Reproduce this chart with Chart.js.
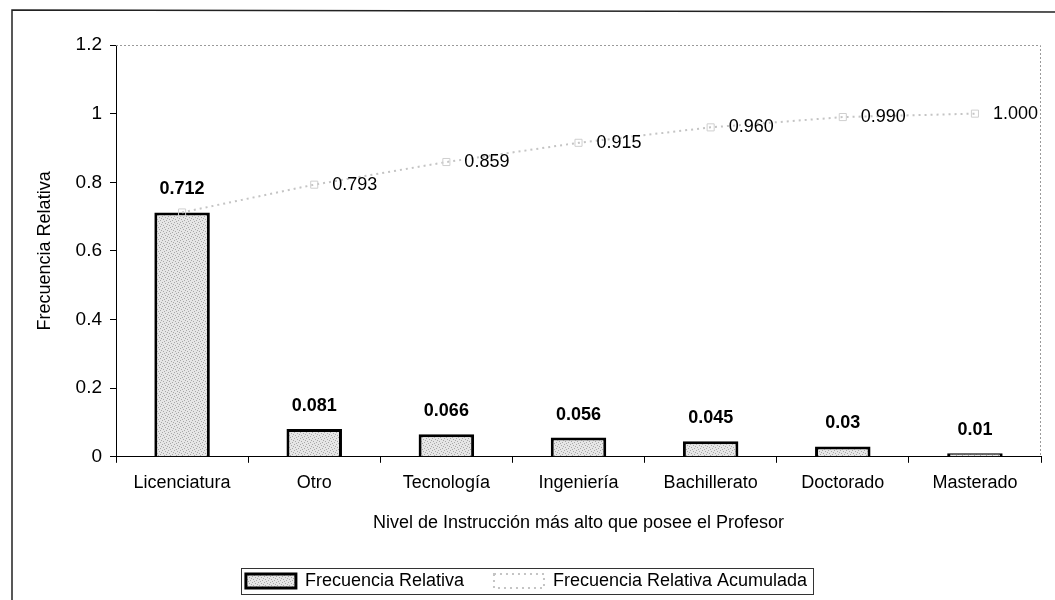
<!DOCTYPE html>
<html>
<head>
<meta charset="utf-8">
<script src="https://cdn.jsdelivr.net/npm/chart.js@4.4.1/dist/chart.umd.min.js"></script>
<style>
  html, body { margin: 0; padding: 0; background: #fff; }
  #wrap { width: 1055px; height: 600px; position: relative; }
</style>
</head>
<body>
<div id="wrap"><canvas id="chart" width="1055" height="600"></canvas></div>
<script>
// Data
const categories = ['Licenciatura', 'Otro', 'Tecnología', 'Ingeniería', 'Bachillerato', 'Doctorado', 'Masterado'];
const freqRelativa = [0.712, 0.081, 0.066, 0.056, 0.045, 0.03, 0.01];
const freqAcumulada = [0.712, 0.793, 0.859, 0.915, 0.960, 0.990, 1.000];
const seriesNames = ['Frecuencia Relativa', 'Frecuencia Relativa Acumulada'];
const yMax = 1.2;
const yStep = 0.2;

const FONT = '"Liberation Sans", Arial, sans-serif';

// light speckled fill like the printed bars
function speckle() {
    const c = document.createElement('canvas');
    c.width = 6; c.height = 6;
    const g = c.getContext('2d');
    g.fillStyle = '#e6e6e6';
    g.fillRect(0, 0, 6, 6);
    g.fillStyle = '#a8a8a8';
    [[0, 0], [3, 1], [1, 3], [4, 4], [5, 2], [2, 5]].forEach(p => g.fillRect(p[0], p[1], 1, 1));
    return g.createPattern(c, 'repeat');
}

// value labels above bars and to the right of line points
const valueLabels = {
    id: 'valueLabels',
    afterDatasetsDraw(chart) {
        const ctx = chart.ctx;
        ctx.save();
        ctx.fillStyle = '#000';
        const barMeta = chart.getDatasetMeta(0);
        ctx.font = 'bold 18px ' + FONT;
        ctx.textAlign = 'center';
        ctx.textBaseline = 'middle';
        barMeta.data.forEach((el, i) => {
            ctx.fillText(String(freqRelativa[i]), el.x, el.y - 23);
        });
        const lineMeta = chart.getDatasetMeta(1);
        ctx.font = '18px ' + FONT;
        ctx.textAlign = 'left';
        lineMeta.data.forEach((el, i) => {
            if (i === 0) return; // first point shares the bar label
            ctx.fillText(freqAcumulada[i].toFixed(3), el.x + 18, el.y);
        });
        ctx.restore();
    }
};

// dotted plot-area edges, outer frame and legend box
const frames = {
    id: 'frames',
    beforeDatasetsDraw(chart) {
        const { ctx, chartArea: a } = chart;
        ctx.save();
        ctx.strokeStyle = '#9a9a9a';
        ctx.lineWidth = 1;
        ctx.setLineDash([2, 2]);
        ctx.beginPath();
        ctx.moveTo(a.left, a.top + 0.5);
        ctx.lineTo(a.right - 0.5, a.top + 0.5);
        ctx.lineTo(a.right - 0.5, a.bottom);
        ctx.stroke();
        ctx.restore();
    },
    afterDraw(chart) {
        const ctx = chart.ctx;
        ctx.save();
        ctx.strokeStyle = '#222';
        ctx.lineWidth = 1.5;
        ctx.beginPath();
        ctx.moveTo(12, 600);
        ctx.lineTo(12, 10);
        ctx.lineTo(1055, 12);
        ctx.stroke();
        const boxes = chart.legend.legendHitBoxes;
        if (boxes.length) {
            const l = boxes[0].left - 5;
            const r = boxes[boxes.length - 1].left + boxes[boxes.length - 1].width + 6;
            const t = boxes[0].top - 4;
            const b = boxes[0].top + boxes[0].height + 4;
            ctx.lineWidth = 1;
            ctx.strokeStyle = '#333';
            ctx.strokeRect(Math.round(l) + 0.5, Math.round(t) + 0.5, Math.round(r - l), Math.round(b - t));
        }
        ctx.restore();
    }
};

const ctx = document.getElementById('chart').getContext('2d');
const chart = new Chart(ctx, {
    data: {
        labels: categories,
        datasets: [
            {
                type: 'bar',
                label: seriesNames[0],
                data: freqRelativa,
                backgroundColor: speckle(),
                borderColor: '#000',
                borderWidth: 3,
                barPercentage: 1,
                categoryPercentage: 0.42,
                order: 2
            },
            {
                type: 'line',
                label: seriesNames[1],
                data: freqAcumulada,
                borderColor: '#c4c4c4',
                backgroundColor: 'rgba(0,0,0,0)',
                borderWidth: 2,
                borderDash: [2, 4],
                pointStyle: 'rect',
                pointRadius: 5,
                pointBorderColor: '#cfcfcf',
                pointBorderWidth: 1,
                pointBackgroundColor: 'rgba(0,0,0,0)',
                tension: 0,
                order: 1
            }
        ]
    },
    options: {
        responsive: false,
        animation: false,
        layout: { padding: { left: 12, right: 14, top: 45, bottom: 0 } },
        plugins: {
            tooltip: { enabled: false },
            legend: {
                position: 'bottom',
                labels: {
                    color: '#000',
                    font: { family: FONT, size: 18 },
                    boxWidth: 50,
                    boxHeight: 14,
                    padding: 30,
                    sort: (a, b) => a.datasetIndex - b.datasetIndex
                }
            }
        },
        scales: {
            x: {
                offset: true,
                grid: { offset: true, drawOnChartArea: false, color: '#000', tickLength: 6, tickColor: '#000' },
                border: { color: '#000', width: 1 },
                ticks: { color: '#000', font: { family: FONT, size: 18 }, padding: 9, maxRotation: 0 },
                title: {
                    display: true,
                    text: 'Nivel de Instrucción más alto que posee el Profesor',
                    color: '#000',
                    font: { family: FONT, size: 18 },
                    padding: { top: 10, bottom: 8 }
                }
            },
            y: {
                min: 0,
                max: yMax,
                grid: { drawOnChartArea: false, tickLength: 6, tickColor: '#000' },
                border: { color: '#000', width: 1 },
                ticks: {
                    stepSize: yStep,
                    color: '#000',
                    font: { family: FONT, size: 19 },
                    padding: 8,
                    callback: v => String(+v.toFixed(1))
                },
                title: {
                    display: true,
                    text: 'Frecuencia Relativa',
                    color: '#000',
                    font: { family: FONT, size: 18 },
                    padding: { top: 22, bottom: 12 }
                }
            }
        }
    },
    plugins: [valueLabels, frames]
});
</script>
</body>
</html>
